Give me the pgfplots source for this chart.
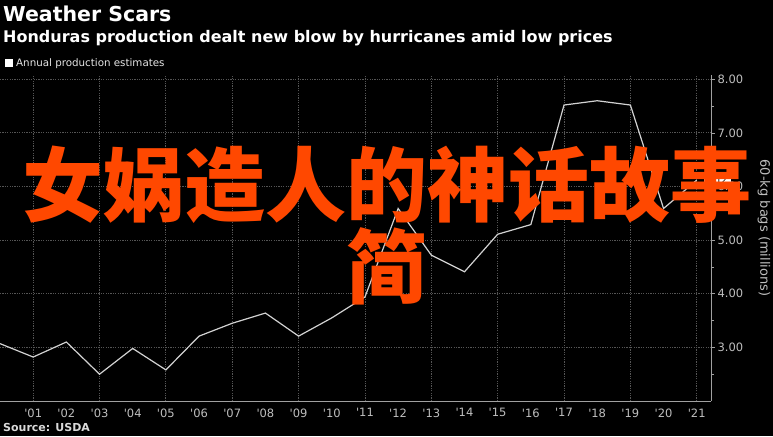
\documentclass[border=0pt]{standalone}
\usepackage{pgfplots}
\pgfplotsset{compat=1.18}
\usepackage{fontspec}
\setmainfont{DejaVu Sans}
\newfontfamily\cjk{Noto Sans CJK SC}
\definecolor{bgc}{RGB}{0,0,0}
\definecolor{linec}{RGB}{210,210,210}
\definecolor{gridc}{RGB}{85,85,85}
\definecolor{axc}{RGB}{160,160,160}
\definecolor{tickc}{RGB}{190,190,190}
\definecolor{redc}{RGB}{255,72,0}
\pgfplotstableread{
year value
2000 3.07
2001 2.82
2002 3.10
2003 2.50
2004 2.98
2005 2.58
2006 3.21
2007 3.45
2008 3.64
2009 3.21
2010 3.55
2011 3.94
2012 5.59
2013 4.72
2014 4.41
2015 5.11
2016 5.29
2017 7.52
2018 7.60
2019 7.52
2020 5.59
2021 6.12
}\production
\begin{document}
\begin{tikzpicture}[x=1pt,y=1pt]
\fill[bgc] (0,-35) rectangle (773,401);
\begin{axis}[
  at={(0pt,0pt)}, anchor=south west,
  scale only axis, width=711pt, height=326pt,
  xmin=2000, xmax=2021.43, ymin=2, ymax=8.08,
  axis x line*=bottom, axis y line*=right,
  axis line style={draw=axc, line width=0.9pt, -},
  xtick={2001,...,2021},
  xticklabels={\textquotesingle01,\textquotesingle02,\textquotesingle03,\textquotesingle04,\textquotesingle05,\textquotesingle06,\textquotesingle07,\textquotesingle08,\textquotesingle09,\textquotesingle10,\textquotesingle11,\textquotesingle12,\textquotesingle13,\textquotesingle14,\textquotesingle15,\textquotesingle16,\textquotesingle17,\textquotesingle18,\textquotesingle19,\textquotesingle20,\textquotesingle21},
  x tick style={draw=none},
  extra x ticks={2001,2003,2005,2007,2009,2011,2013,2015,2017,2019,2021},
  extra x tick labels={},
  extra x tick style={grid=major, major tick length=0pt},
  ytick={3,4,5,6,7,8},
  minor ytick={2.5,3.5,4.5,5.5,6.5,7.5},
  ymajorgrids,
  grid style={draw=gridc, dash pattern=on 1.2pt off 1.2pt, line width=0.9pt},
  tick align=outside,
  major tick length=4pt, minor tick length=3pt,
  y tick style={draw=axc, line width=0.8pt},
  yticklabel style={font=\fontsize{11.5}{13}\selectfont, text=tickc, xshift=-1pt},
  xticklabel style={font=\fontsize{11.5}{13}\selectfont, text=tickc},
  /pgf/number format/assume math mode=true,
  yticklabel={\pgfmathprintnumber[fixed,fixed zerofill,precision=2]{\tick}},
  clip=false,
]
\addplot[color=linec, line width=1.2pt] table[x=year, y=value] {\production};
\addplot[draw=none, mark=none, nodes near coords={6.12},
  every node near coord/.style={anchor=west, xshift=7pt, fill=white, text=black,
  font=\fontsize{8.5}{10}\selectfont, inner xsep=4pt, inner ysep=3pt}] coordinates {(2021,6.12)};
\end{axis}
% titles
\node[anchor=base west, text=white, font=\bfseries\fontsize{20.5}{24}\selectfont, inner sep=0] at (3,379) {Weather Scars};
\node[anchor=base west, text=white, font=\bfseries\fontsize{16}{19}\selectfont, inner sep=0] at (3,358) {Honduras production dealt new blow by hurricanes amid low prices};
\fill[white] (5,334) rectangle (13,342);
\node[anchor=base west, text=white!90!black, font=\fontsize{10.3}{12}\selectfont, inner sep=0] at (16,334) {Annual production estimates};
\node[anchor=base west, text=white!85!black, font=\bfseries\fontsize{11}{13}\selectfont, inner sep=0] at (3,-30) {Source: USDA};
\node[rotate=-90, text=tickc, font=\fontsize{13}{15}\selectfont, inner sep=0] at (764,173) {60-kg bags (millions)};
% overlay text
\node[text=redc, font=\cjk\bfseries\fontsize{81}{82}\selectfont, align=center, inner sep=0] at (387,175) {女娲造人的神话故事\\简};
\pgfresetboundingbox
\useasboundingbox (0,-35) rectangle (773,401);
\end{tikzpicture}
\end{document}
